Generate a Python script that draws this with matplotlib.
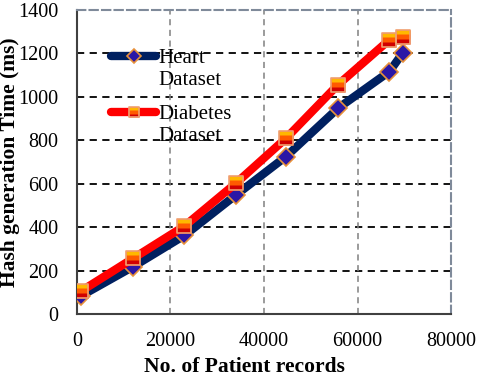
import matplotlib
matplotlib.use("Agg")
import matplotlib.pyplot as plt
from matplotlib.path import Path
from matplotlib.legend_handler import HandlerTuple

records = [1000, 12000, 23000, 34000, 44700, 55800, 66800, 69600]
heart_ms = [85, 218, 362, 548, 725, 947, 1116, 1200]
diabetes_ms = [107, 256, 405, 602, 809, 1055, 1262, 1277]
series_labels = ["Heart\nDataset", "Diabetes\nDataset"]
x_label = "No. of Patient records"
y_label = "Hash generation Time (ms)"

plt.rcParams['font.family'] = ['Liberation Serif', 'DejaVu Serif']

fig = plt.figure(figsize=(4.8, 3.78), dpi=100)
ax = fig.add_axes([0.160, 0.169, 0.780, 0.805])

h_line, = ax.plot(records, heart_ms, color='#002060', lw=6, solid_capstyle='round',
                  marker='D', markersize=9.5, markerfacecolor='#2B17A6',
                  markeredgecolor='#E8913A', markeredgewidth=1.2, zorder=4)

def band(y0):
    return Path([(-1, y0), (1, y0), (1, 1), (-1, 1), (-1, y0)],
                [Path.MOVETO, Path.LINETO, Path.LINETO, Path.LINETO, Path.CLOSEPOLY])

full_sq = band(-1)
ms = 10.5
d_line, = ax.plot(records, diabetes_ms, color='#FF0000', lw=6, solid_capstyle='round',
                  marker=full_sq, markersize=ms, markerfacecolor='#D00000',
                  markeredgecolor='none', zorder=5)
d_m2, = ax.plot(records, diabetes_ms, ls='none', marker=band(-0.3), markersize=ms,
                markerfacecolor='#FF5A00', markeredgecolor='none', zorder=6)
d_m3, = ax.plot(records, diabetes_ms, ls='none', marker=band(0.35), markersize=ms,
                markerfacecolor='#FFB800', markeredgecolor='none', zorder=7)
d_m4, = ax.plot(records, diabetes_ms, ls='none', marker=full_sq, markersize=ms,
                markerfacecolor='none', markeredgecolor='#F0A070',
                markeredgewidth=1.2, zorder=8)

ax.set_xlim(0, 80000)
ax.set_ylim(0, 1400)
ax.set_xticks(range(0, 80001, 20000))
ax.set_yticks(range(0, 1401, 200))
ax.tick_params(labelsize=14.5, direction='in', length=0, pad=13)

for yv in range(200, 1400, 200):
    ax.axhline(yv, color='black', lw=1.3, ls=(0, (4, 3)), zorder=1)
for xv in range(20000, 80000, 20000):
    ax.axvline(xv, color='#808080', lw=1.1, ls=(0, (4, 3)), zorder=1)

for s in ['top', 'right']:
    ax.spines[s].set_color('#7f8a9a')
    ax.spines[s].set_linestyle((0, (4, 2)))
    ax.spines[s].set_linewidth(1.5)
for s in ['left', 'bottom']:
    ax.spines[s].set_color('#404040')
    ax.spines[s].set_linewidth(1.5)

ax.set_xlabel(x_label, fontsize=15.5, fontweight='bold')
ax.set_ylabel(y_label, fontsize=15.5, fontweight='bold')
ax.xaxis.set_label_coords(0.447, -0.175)
ax.yaxis.set_label_coords(-0.179, 0.5)
ax.yaxis.label.set_va('center')
ax.xaxis.label.set_va('center')

leg = ax.legend([h_line, (d_line, d_m2, d_m3, d_m4)], series_labels,
                handler_map={tuple: HandlerTuple(ndivide=1, pad=0)},
                loc='upper left', bbox_to_anchor=(0.064, 0.905), frameon=False,
                fontsize=15, handlelength=2.15, handletextpad=0.1,
                labelspacing=0.72, borderpad=0, markerscale=0.75)
for col in leg._legend_handle_box.get_children():
    for item in col.get_children():
        item.align = 'top'

fig.savefig('out.png', dpi=100)
